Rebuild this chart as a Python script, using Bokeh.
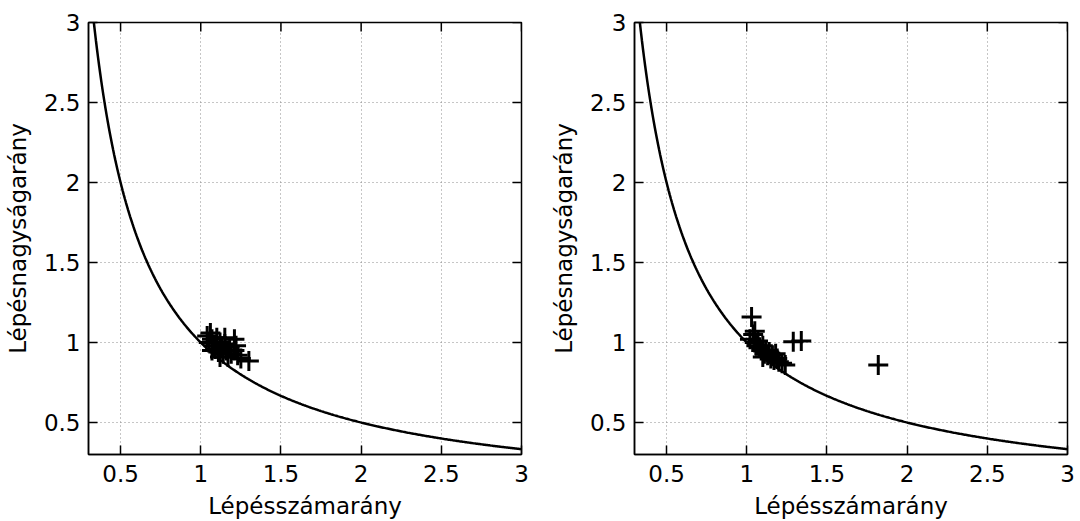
import numpy as np
from bokeh.plotting import figure
from bokeh.layouts import row
from bokeh.models import FixedTicker, Range1d
from bokeh.embed import file_html
from bokeh.resources import INLINE

ticks = [0.5, 1, 1.5, 2, 2.5, 3]
x_label = "Lépésszámarány"
y_label = "Lépésnagyságarány"

left_x = [1.04, 1.06, 1.07, 1.05, 1.08, 1.10, 1.12, 1.09, 1.11, 1.13, 1.15, 1.14, 1.16,
          1.18, 1.21, 1.17, 1.19, 1.21, 1.23, 1.25, 1.30, 1.22, 1.12, 1.07, 1.15]
left_y = [1.04, 1.06, 1.02, 1.00, 0.98, 1.03, 1.00, 0.96, 0.94, 0.97, 0.99, 0.93, 0.95,
          0.97, 1.02, 0.91, 0.93, 0.95, 0.92, 0.90, 0.885, 0.98, 0.91, 0.95, 1.03]

right_x = [1.02, 1.04, 1.05, 1.06, 1.07, 1.08, 1.09, 1.10, 1.11, 1.12, 1.13, 1.14, 1.15,
           1.16, 1.17, 1.19, 1.20, 1.22, 1.24, 1.05, 1.10, 1.18, 1.03, 1.29, 1.34, 1.82]
right_y = [1.02, 1.05, 1.00, 0.98, 1.01, 0.97, 0.95, 0.98, 0.93, 0.95, 0.92, 0.94, 0.90,
           0.92, 0.89, 0.90, 0.88, 0.87, 0.86, 1.07, 0.91, 0.93, 1.16, 1.005, 1.01, 0.86]

curve_x = np.linspace(1 / 3, 3, 400)
curve_y = 1 / curve_x

FONT = "DejaVu Sans"
FS = "23px"
X_MIN, X_MAX = 0.3, 3
Y_MIN, Y_MAX = 0.3, 3


def make(px, py, bl, br):
    p = figure(width=540, height=521, output_backend="svg", toolbar_location=None,
               x_range=Range1d(X_MIN, X_MAX), y_range=Range1d(Y_MIN, Y_MAX),
               min_border_left=bl, min_border_right=br, min_border_top=22, min_border_bottom=66)
    p.outline_line_color = "black"
    p.outline_line_width = 1.5
    for ax in (p.xaxis[0], p.yaxis[0]):
        ax.ticker = FixedTicker(ticks=ticks)
        ax.major_tick_in = 9
        ax.major_tick_out = 0
        ax.minor_tick_line_color = None
        ax.axis_line_width = 1.5
        ax.major_tick_line_width = 1.5
        ax.major_label_text_font = FONT
        ax.major_label_text_font_size = FS
        ax.major_label_text_color = "black"
        ax.axis_label_text_font = FONT
        ax.axis_label_text_font_size = FS
        ax.axis_label_text_font_style = "normal"
        ax.axis_label_text_color = "black"
    p.xaxis[0].major_label_standoff = 10
    p.yaxis[0].major_label_standoff = 8
    p.xaxis[0].axis_label_standoff = 8
    p.yaxis[0].axis_label_standoff = 10
    p.xaxis[0].axis_label = x_label
    p.yaxis[0].axis_label = y_label
    p.xgrid.ticker = FixedTicker(ticks=ticks)
    p.ygrid.ticker = FixedTicker(ticks=ticks)
    for g in (p.xgrid[0], p.ygrid[0]):
        g.grid_line_color = "#8c8c8c"
        g.grid_line_dash = "1 3"
        g.grid_line_width = 1
    # mirrored inward ticks on top and right edges (half of each dash is clipped by the frame)
    p.scatter(ticks, [Y_MAX] * len(ticks), marker="dash", angle=np.pi / 2, size=18,
              line_color="black", line_width=1.5)
    p.scatter([X_MAX] * len(ticks), ticks, marker="dash", size=18,
              line_color="black", line_width=1.5)
    p.line(curve_x, curve_y, line_color="black", line_width=2.5)
    p.scatter(px, py, marker="cross", size=20, line_color="black", line_width=3)
    return p


p1 = make(left_x, left_y, 88, 19)
p2 = make(right_x, right_y, 94, 13)
layout = row(p1, p2)
open("out.html", "w").write(file_html(layout, INLINE))
